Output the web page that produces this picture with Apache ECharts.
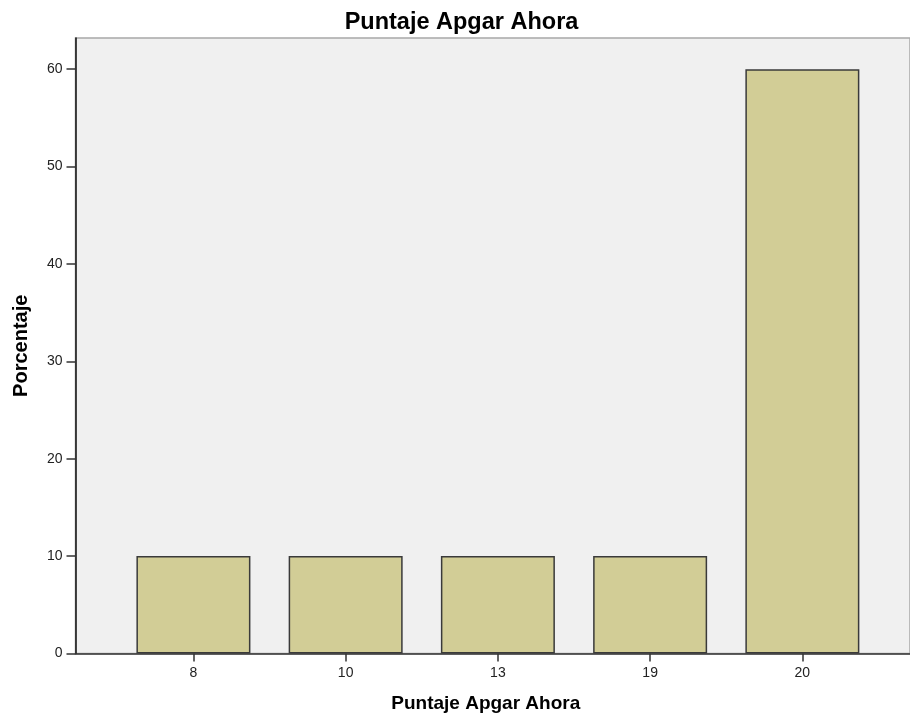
<!DOCTYPE html>
<html>
<head>
<meta charset="utf-8">
<script src="https://cdn.jsdelivr.net/npm/echarts@6/dist/echarts.min.js"></script>
<style>
html,body{margin:0;padding:0;background:#fff;}
#chart{width:910px;height:724px;}
</style>
</head>
<body>
<div id="chart"></div>
<script>
const categories = ['8', '10', '13', '19', '20'];
const percentages = [10, 10, 10, 10, 60];
const yTicks = [0, 10, 20, 30, 40, 50, 60];

const positions = categories.map((c, i) => i);
const seriesData = percentages.map((v, i) => [positions[i], v]);

const FONT = 'Liberation Sans, Arial, sans-serif';
const chart = echarts.init(document.getElementById('chart'));
chart.setOption({
  animation: false,
  textStyle: { fontFamily: FONT },
  title: {
    text: 'Puntaje Apgar Ahora',
    left: 456.5,
    textAlign: 'center',
    top: 6,
    textStyle: { fontSize: 23.5, fontWeight: 'bold', color: '#000', fontFamily: FONT }
  },
  grid: {
    left: 75.5, top: 38, right: -2, bottom: 70.5,
    show: true, backgroundColor: '#f0f0f0', borderColor: '#a8a8a8', borderWidth: 1.5
  },
  xAxis: {
    type: 'value',
    min: -0.7746, max: 4.707,
    name: 'Puntaje Apgar Ahora',
    nameLocation: 'middle',
    nameGap: 41,
    nameMoveOverlap: false,
    nameTextStyle: { fontSize: 19, fontWeight: 'bold', color: '#000', padding: [0, 14, 0, 0] },
    splitLine: { show: false },
    axisLine: { show: true, onZero: false, lineStyle: { color: '#333', width: 1.5 } },
    axisTick: { show: true, inside: false, customValues: positions, length: 8, lineStyle: { color: '#333', width: 1.5 } },
    axisLabel: { customValues: positions, formatter: v => categories[Math.round(v)], fontSize: 14, color: '#222', margin: 13 }
  },
  yAxis: {
    type: 'value',
    min: 0, max: 63.2,
    name: 'Porcentaje',
    nameLocation: 'middle',
    nameGap: 44,
    nameMoveOverlap: false,
    nameTextStyle: { fontSize: 20, fontWeight: 'bold', color: '#000' },
    splitLine: { show: false },
    axisLine: { show: true, onZero: false, lineStyle: { color: '#111', width: 1.5 } },
    axisTick: { show: true, inside: false, customValues: yTicks, length: 9, lineStyle: { color: '#333', width: 1.5 } },
    axisLabel: { customValues: yTicks, fontSize: 14, color: '#222', margin: 13 }
  },
  series: [{
    type: 'bar',
    data: seriesData,
    barWidth: 114,
    itemStyle: { color: '#d2cd96', borderColor: '#3a3a3a', borderWidth: 1.5 }
  }]
});
</script>
</body>
</html>
